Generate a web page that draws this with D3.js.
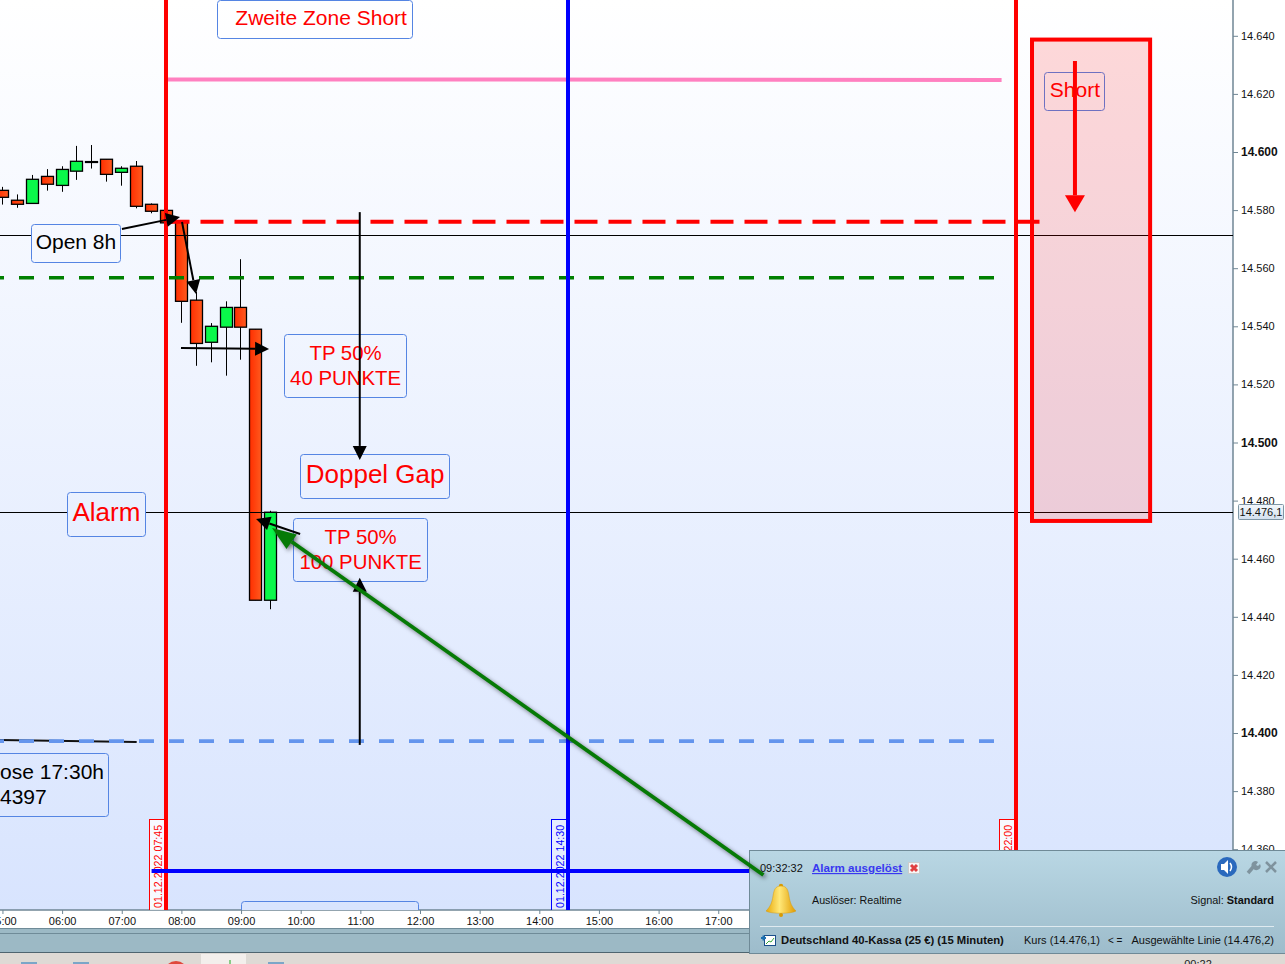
<!DOCTYPE html>
<html>
<head>
<meta charset="utf-8">
<script src="https://cdn.jsdelivr.net/npm/d3@7"></script>
<style>
    html, body { margin: 0; padding: 0; overflow: hidden; background: #ddd9d4; }
    svg { display: block; font-family: "Liberation Sans", Arial, sans-serif; }
</style>
</head>
<body>
<div id="chart"></div>
<script>
// 15 minute candles, time in hours
const times  = [5, 5.25, 5.5, 5.75, 6, 6.25, 6.5, 6.75, 7, 7.25, 7.5, 7.75, 8, 8.25, 8.5, 8.75, 9, 9.25, 9.5];
const opens  = [14586.8, 14583.4, 14582.3, 14591.6, 14588.5, 14593.4, 14596.7, 14597.5, 14593.0, 14595.1, 14582.0, 14579.9, 14575.9, 14549.0, 14534.5, 14539.7, 14546.5, 14539.0, 14445.7];
const highs  = [14588.0, 14585.4, 14592.1, 14594.1, 14595.1, 14602.1, 14602.4, 14597.5, 14595.1, 14596.9, 14582.3, 14579.9, 14575.9, 14551.8, 14541.1, 14548.6, 14563.1, 14539.0, 14476.5];
const lows   = [14581.9, 14580.8, 14582.3, 14586.7, 14586.3, 14590.4, 14594.3, 14589.8, 14588.4, 14580.6, 14578.9, 14575.6, 14541.2, 14526.4, 14527.6, 14523.0, 14528.5, 14445.7, 14442.6];
const closes = [14584.4, 14582.0, 14590.6, 14588.9, 14594.0, 14596.8, 14596.4, 14592.3, 14594.4, 14581.3, 14579.6, 14575.6, 14548.6, 14534.1, 14540.0, 14546.5, 14539.7, 14445.7, 14476.0];

const hourTicks = [5, 6, 7, 8, 9, 10, 11, 12, 13, 14, 15, 16, 17, 18, 19, 20, 21, 22];
const priceTicks = [14640, 14620, 14600, 14580, 14560, 14540, 14520, 14500, 14480, 14460, 14440, 14420, 14400, 14380, 14360];
const boldTicks = [14600, 14500, 14400];

// horizontal levels
const lastPrice = 14476.1;
const openLevel = 14571.3;
const redLevel = 14576;
const greenLevel = 14556.7;
const blueLevel = 14397.2;
const levelEnd = 21.65;
const redLevelEnd = 22.39;
const pinkLine = [7.75, 14625.0, 21.75, 14624.8];
const closeLine = [5, 14397.6, 7.25, 14396.9];
const bluePriceLine = [7.5, 14352.5, 21.65, 14352.5];
const zone = [22.26, 14638.7, 24.24, 14473];

// vertical markers
const markerTimes = [7.75, 14.5, 22];
const markerLabels = ["01.12.2022 07:45", "01.12.2022 14:30", "01.12.2022 22:00"];
const markerColors = ["#ff0000", "#0000ff", "#ff0000"];

// notes: centre of the box in time / price
const noteTexts = [["Zweite Zone Short"], ["Short"], ["Open 8h"], ["TP 50%", "40 PUNKTE"], ["Doppel Gap"], ["Alarm"], ["TP 50%", "100 PUNKTE"], ["ose 17:30h", "4397"], []];
const noteTimes = [10.242, 22.98, 6.232, 10.753, 11.248, 6.743, 11.005, 5.703, 10.49];
const notePrices = [14645.6, 14620.8, 14568.5, 14526.3, 14488.3, 14475.2, 14463, 14382.1, 14332];

// arrows: time, price -> time, price
const blackArrows = [
    [7.003, 14573.5, 7.977, 14577.6],
    [8.01, 14575.9, 8.245, 14551.1],
    [7.993, 14532.5, 9.47, 14532.2],
    [10.99, 14579.3, 10.99, 14494],
    [10.99, 14395.9, 10.99, 14453.4],
    [9.99, 14468.5, 9.252, 14473.7]
];
const redArrow = [22.98, 14631.3, 22.98, 14579.3];
const greenArrow = [17.757, 14351.1, 9.52, 14470.6];

const width = 1285, height = 964;
const plotW = 1233, plotH = 910;

const x = d3.scaleLinear().domain([6, 22]).range([62.1, 1016.5]);
const y = d3.scaleLinear().domain([14600, 14400]).range([152, 733]);

const de = d3.formatLocale({decimal: ",", thousands: ".", grouping: [3], currency: ["", "€"]});

const svg = d3.select("#chart").append("svg")
    .attr("width", width)
    .attr("height", height);

const defs = svg.append("defs");

function verticalGradient(id, stops, userSpace) {
    const g = defs.append("linearGradient").attr("id", id)
        .attr("x1", 0).attr("x2", 0).attr("y1", 0).attr("y2", userSpace ? plotH : 1);
    if (userSpace) g.attr("gradientUnits", "userSpaceOnUse");
    stops.forEach((c, i) => g.append("stop").attr("offset", i / (stops.length - 1)).attr("stop-color", c));
}
verticalGradient("bg", ["#ffffff", "#d8e4fe"], true);
verticalGradient("pop", ["#b9d7e4", "#9dbccb"]);
verticalGradient("tag", ["#f4f8fc", "#d2e0ee"]);

const redBody = defs.append("linearGradient").attr("id", "redbody");
redBody.append("stop").attr("offset", 0).attr("stop-color", "#ff2e00");
redBody.append("stop").attr("offset", 1).attr("stop-color", "#ff5a1e");

const bell = defs.append("linearGradient").attr("id", "bell");
bell.append("stop").attr("offset", 0).attr("stop-color", "#e8a808");
bell.append("stop").attr("offset", 0.45).attr("stop-color", "#ffe878");
bell.append("stop").attr("offset", 1).attr("stop-color", "#e09a00");

defs.append("clipPath").attr("id", "plotclip")
    .append("rect").attr("width", plotW).attr("height", plotH);

// desktop strip below the window
const desk = svg.append("g");
desk.append("rect").attr("y", 953).attr("width", width).attr("height", 11).attr("fill", "#dedad5");
desk.append("rect").attr("x", 201).attr("y", 954).attr("width", 45).attr("height", 10).attr("fill", "#f3efec");
desk.append("circle").attr("cx", 176).attr("cy", 973).attr("r", 12).attr("fill", "#e0483c");
desk.append("line").attr("x1", 230).attr("x2", 230).attr("y1", 960).attr("y2", 964).attr("stroke", "#1fa81f");
desk.selectAll("rect.ic").data([21, 73, 268]).enter().append("rect").attr("class", "ic")
    .attr("x", d => d).attr("y", 962).attr("width", 16).attr("height", 2).attr("fill", "#7ba6c8");
desk.append("text").attr("x", 1198).attr("y", 968).attr("text-anchor", "middle")
    .style("font-size", "11px").attr("fill", "#222").text("00:22");

// plot background and the strips around it
svg.append("rect").attr("width", plotW).attr("height", plotH).attr("fill", "url(#bg)");
svg.append("rect").attr("x", plotW).attr("width", width - plotW).attr("height", plotH + 18).attr("fill", "#fff");
svg.append("rect").attr("y", plotH).attr("width", plotW).attr("height", 18).attr("fill", "#fff");
svg.append("rect").attr("y", 928).attr("width", width).attr("height", 25).attr("fill", "#9cb9c5");
svg.append("line").attr("x1", 0).attr("x2", width).attr("y1", 933.5).attr("y2", 933.5).attr("stroke", "#6f8b98");
svg.append("line").attr("x1", 0).attr("x2", width).attr("y1", 928.5).attr("y2", 928.5).attr("stroke", "#6f8b98");
svg.append("line").attr("x1", 0).attr("x2", width).attr("y1", 952.5).attr("y2", 952.5).attr("stroke", "#4e6570");

// axes
const xAxis = svg.append("g")
    .attr("transform", "translate(0," + plotH + ")")
    .call(d3.axisBottom(x).tickValues(hourTicks).tickSize(4).tickPadding(3)
        .tickFormat(d => d3.format("02")(d) + ":00"));
xAxis.select(".domain").remove();
xAxis.selectAll("text").style("font-size", "11px").style("font-family", "inherit").attr("fill", "#111");
xAxis.selectAll("line").attr("stroke", "#6f8694");

const yAxis = svg.append("g")
    .attr("transform", "translate(" + plotW + ",0)")
    .call(d3.axisRight(y).tickValues(priceTicks).tickSize(5).tickPadding(3).tickFormat(de.format(",d")));
yAxis.select(".domain").remove();
yAxis.selectAll("text")
    .style("font-size", d => boldTicks.includes(d) ? "12px" : "11px")
    .style("font-weight", d => boldTicks.includes(d) ? "bold" : "normal")
    .style("font-family", "inherit")
    .attr("fill", "#111");
yAxis.selectAll("line").attr("stroke", "#6f8694");

svg.append("line").attr("x1", plotW).attr("x2", plotW).attr("y1", 0).attr("y2", plotH + 18)
    .attr("stroke", "#6f8694").attr("stroke-width", 1.5);
svg.append("line").attr("x1", 0).attr("x2", plotW).attr("y1", plotH).attr("y2", plotH)
    .attr("stroke", "#6f8694").attr("stroke-width", 1.5);

const plot = svg.append("g").attr("clip-path", "url(#plotclip)");

// candles
const candleLeft = d => Math.round(x(d) - 6.6) + 0.5;
const candles = plot.selectAll("g.candle").data(times).enter().append("g").attr("class", "candle");
candles.append("line")
    .attr("x1", d => candleLeft(d) + 6)
    .attr("x2", d => candleLeft(d) + 6)
    .attr("y1", (d, i) => y(highs[i]))
    .attr("y2", (d, i) => y(lows[i]))
    .attr("stroke", "#000");
candles.append("rect")
    .attr("x", d => candleLeft(d))
    .attr("width", 12)
    .attr("y", (d, i) => y(Math.max(opens[i], closes[i])))
    .attr("height", (d, i) => Math.abs(y(opens[i]) - y(closes[i])))
    .attr("fill", (d, i) => closes[i] >= opens[i] ? "#0af84a" : "url(#redbody)")
    .attr("stroke", "#000")
    .attr("stroke-width", 1.3);

// hairlines for open and last price
[openLevel, lastPrice].forEach(p => {
    plot.append("line")
        .attr("x1", 0).attr("x2", plotW)
        .attr("y1", Math.round(y(p)) + 0.5).attr("y2", Math.round(y(p)) + 0.5)
        .attr("stroke", "#000");
});

// note boxes
const noteSizes = [[195, 38, 21, 6], [60, 38, 21, 0], [89, 38, 21, 0], [122, 63, 20.4, 0], [149, 44, 26, 0], [78, 44, 26, 0], [134, 63, 20.4, 0], [128, 63, 21, 0], [177, 58, 21, 0]];
const noteColors = ["#ff0000", "#ff0000", "#000", "#ff0000", "#ff0000", "#ff0000", "#ff0000", "#000", "#ff0000"];

noteTexts.forEach((lines, i) => {
    const [w, h, fs, dx] = noteSizes[i];
    const cx = x(noteTimes[i]), cy = y(notePrices[i]);
    const g = plot.append("g");
    g.append("rect")
        .attr("x", Math.round(cx - w / 2 - 0.5) + 0.5)
        .attr("y", Math.round(cy - h / 2 - 0.5) + 0.5)
        .attr("width", w).attr("height", h)
        .attr("rx", 3)
        .attr("fill", lines[0] === "Short" ? "none" : "url(#bg)")
        .attr("stroke", "#5585e3");
    lines.forEach((t, k) => {
        // the close note is cut by the left edge of the chart
        const isClose = i === 7;
        g.append("text")
            .attr("x", isClose ? (k === 0 ? 104 : 0) : cx + dx)
            .attr("y", cy + (k - (lines.length - 1) / 2) * 25 + fs * (lines.length > 1 ? 0.31 : 0.25))
            .attr("text-anchor", isClose ? (k === 0 ? "end" : "start") : "middle")
            .attr("fill", noteColors[i])
            .style("font-size", fs + "px")
            .text(t);
    });
});

// dashed levels
function dashed(p, x1, x2, color, sw, dash, offset) {
    plot.append("line")
        .attr("x1", x1).attr("x2", x2)
        .attr("y1", y(p)).attr("y2", y(p))
        .attr("stroke", color).attr("stroke-width", sw)
        .attr("stroke-dasharray", dash).attr("stroke-dashoffset", offset);
}

plot.append("line")
    .attr("x1", 0).attr("x2", x(closeLine[2]))
    .attr("y1", y(closeLine[1])).attr("y2", y(closeLine[3]))
    .attr("stroke", "#111").attr("stroke-width", 2);

dashed(greenLevel, 0, x(levelEnd), "#008000", 3.6, "15 15", 11);
dashed(blueLevel, 0, x(levelEnd), "#6495ed", 3.6, "15 15", 11);
dashed(redLevel, x(7.75), x(redLevelEnd), "#ff0000", 4, "23 11", 0);

plot.append("line")
    .attr("x1", x(pinkLine[0])).attr("x2", x(pinkLine[2]))
    .attr("y1", y(pinkLine[1])).attr("y2", y(pinkLine[3]))
    .attr("stroke", "#ff80c0").attr("stroke-width", 4);

// short zone
plot.append("rect")
    .attr("x", x(zone[0])).attr("y", y(zone[1]))
    .attr("width", x(zone[2]) - x(zone[0]))
    .attr("height", y(zone[3]) - y(zone[1]))
    .attr("fill", "#ff0000").attr("fill-opacity", 0.15)
    .attr("stroke", "#ff0000").attr("stroke-width", 4);

// vertical markers with their date tags
markerTimes.forEach((t, i) => {
    const mx = Math.round(x(t) - 0.8);
    plot.append("rect")
        .attr("x", mx - 16.5).attr("y", 819.5)
        .attr("width", 16).attr("height", plotH - 819)
        .attr("fill", "#fff").attr("fill-opacity", i === 1 ? 0.3 : 0.8)
        .attr("stroke", markerColors[i]);
    plot.append("text")
        .attr("transform", "translate(" + (mx - 4.5) + "," + (plotH - 2) + ") rotate(-90)")
        .attr("fill", markerColors[i])
        .style("font-size", "10.7px")
        .text(markerLabels[i]);
    plot.append("line")
        .attr("x1", mx).attr("x2", mx)
        .attr("y1", 0).attr("y2", plotH)
        .attr("stroke", markerColors[i]).attr("stroke-width", 4);
});

plot.append("line")
    .attr("x1", x(bluePriceLine[0])).attr("x2", x(bluePriceLine[2]))
    .attr("y1", y(bluePriceLine[1])).attr("y2", y(bluePriceLine[3]))
    .attr("stroke", "#0000ff").attr("stroke-width", 4);

// arrow with a filled head
function arrow(parent, a, color, sw, headLen, headHalf) {
    const x1 = x(a[0]), y1 = y(a[1]), x2 = x(a[2]), y2 = y(a[3]);
    const len = Math.hypot(x2 - x1, y2 - y1);
    const ux = (x2 - x1) / len, uy = (y2 - y1) / len;
    const bx = x2 - ux * headLen, by = y2 - uy * headLen;
    const g = parent.append("g");
    g.append("line")
        .attr("x1", x1).attr("y1", y1).attr("x2", bx).attr("y2", by)
        .attr("stroke", color).attr("stroke-width", sw);
    g.append("polygon")
        .attr("points", [[x2, y2], [bx - uy * headHalf, by + ux * headHalf], [bx + uy * headHalf, by - ux * headHalf]].join(" "))
        .attr("fill", color);
    return g;
}

blackArrows.forEach(a => arrow(plot, a, "#000", 2, 14, 7));
arrow(plot, redArrow, "#ff0000", 4, 17, 10);

// last price tag
svg.append("rect").attr("x", 1238.5).attr("y", 504.5).attr("width", 45).attr("height", 15).attr("rx", 1)
    .attr("fill", "url(#tag)").attr("stroke", "#7f97a6");
svg.append("text").attr("x", 1261).attr("y", 516).attr("text-anchor", "middle")
    .style("font-size", "11px").attr("fill", "#111")
    .text(de.format(",.1f")(lastPrice));

// alarm popup
const pop = svg.append("g");
pop.append("rect").attr("x", 749.5).attr("y", 850.5).attr("width", 536).attr("height", 103)
    .attr("fill", "url(#pop)").attr("stroke", "#6f8a97");

function popText(tx, ty, t, weight, anchor, color) {
    return pop.append("text").attr("x", tx).attr("y", ty)
        .attr("text-anchor", anchor || "start")
        .attr("fill", color || "#111")
        .style("font-size", "11px")
        .style("font-weight", weight || "normal")
        .text(t);
}

popText(760, 872, "09:32:32");
popText(812, 872, "Alarm ausgelöst", "bold", "start", "#3838f0")
    .style("text-decoration", "underline").style("font-size", "11.6px");
popText(812, 904, "Auslöser: Realtime").style("font-size", "10.7px");
const sig = popText(1274, 904, "", "normal", "end");
sig.style("font-size", "10.9px");
sig.append("tspan").text("Signal: ");
sig.append("tspan").style("font-weight", "bold").text("Standard");
popText(781, 944, "Deutschland 40-Kassa (25 €) (15 Minuten)", "bold").style("font-size", "11.3px");
popText(1024, 944, "Kurs (14.476,1)");
popText(1108, 944, "< =").style("font-size", "10px");
popText(1274, 944, "Ausgewählte Linie (14.476,2)", "normal", "end");

pop.append("line").attr("x1", 760).attr("x2", 1274).attr("y1", 926.5).attr("y2", 926.5).attr("stroke", "#dfeaf0");

// red cross next to the link
pop.append("rect").attr("x", 908.5).attr("y", 862.5).attr("width", 11).attr("height", 11).attr("fill", "#f6f6f6").attr("stroke", "#ccc");
pop.append("path").attr("d", "M911,865 L917,871 M917,865 L911,871").attr("stroke", "#e04040").attr("stroke-width", 3);

// sound button
pop.append("circle").attr("cx", 1227).attr("cy", 867).attr("r", 10).attr("fill", "#2a69bd");
pop.append("path").attr("d", "M1221,864 h3 l4,-4 v14 l-4,-4 h-3 z").attr("fill", "#fff");
pop.append("path").attr("d", "M1230,863 q3,4 0,8").attr("fill", "none").attr("stroke", "#fff").attr("stroke-width", 1.5);

// wrench and close
pop.append("path").attr("d", "M1248,873 L1254,866").attr("stroke", "#7f939e").attr("stroke-width", 3.5);
pop.append("path").attr("d", "M1252,867 a4,4 0 0 1 6,-5 l-2,3 l2,1 l2,-2 a4,4 0 0 1 -7,4 z").attr("fill", "#7f939e");
pop.append("path").attr("d", "M1266,862 L1276,872 M1276,862 L1266,872").attr("stroke", "#7f939e").attr("stroke-width", 2.5);

// bell
pop.append("circle").attr("cx", 781).attr("cy", 886).attr("r", 2.2).attr("fill", "#d99a00");
pop.append("path")
    .attr("d", "M781,886 c-6,0 -7,4 -8,10 c-1,7 -3,11 -7,15 c4,3 26,3 30,0 c-4,-4 -6,-8 -7,-15 c-1,-6 -2,-10 -8,-10 z")
    .attr("fill", "url(#bell)").attr("stroke", "#d79a10").attr("stroke-width", 0.5);
pop.append("circle").attr("cx", 781).attr("cy", 915).attr("r", 2).attr("fill", "#d99a00");

// small chart icon
pop.append("rect").attr("x", 764.5).attr("y", 935.5).attr("width", 11).attr("height", 10).attr("fill", "#fff").attr("stroke", "#1b4f8a");
pop.append("path").attr("d", "M761,938 h5 M763.5,935.5 v5").attr("stroke", "#1b6fb0").attr("stroke-width", 2);
pop.append("path").attr("d", "M766,944 l3,-3 l2,1 l3,-4").attr("fill", "none").attr("stroke", "#38a838");

// green alarm arrow lies on top of everything
arrow(svg, greenArrow, "#067a06", 3.8, 24, 9)
    .style("filter", "drop-shadow(2px 2px 2px rgba(0,0,0,0.5))");
</script>
</body>
</html>
